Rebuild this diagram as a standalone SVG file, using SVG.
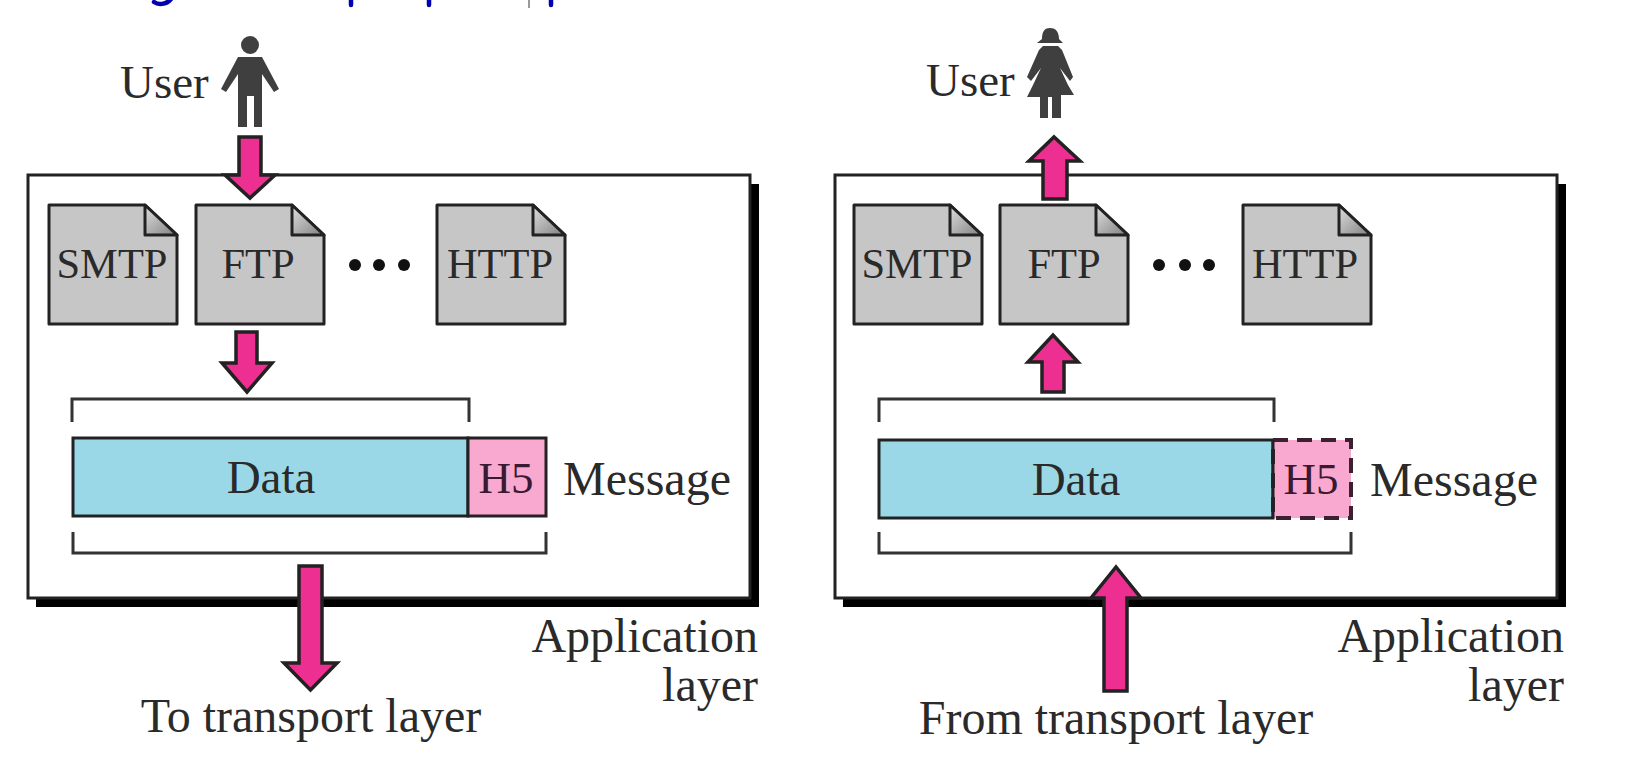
<svg xmlns="http://www.w3.org/2000/svg" width="1640" height="782" viewBox="0 0 1640 782">
<defs>
<style>
text{font-family:"Liberation Serif","Times New Roman",serif;fill:#2a2a2a;font-size:47px}
.m{text-anchor:middle}
.e{text-anchor:end}
.lab{font-size:48px}
.pr{font-size:42.5px}
.h5{font-size:45px;fill:#3a1a30}
.top{fill:none;stroke:#0000b0;stroke-width:4.500;stroke-linecap:round}
.box{fill:#fff;stroke:#222;stroke-width:3}
.shadow{fill:#000}
.doc{fill:#c6c6c6;stroke:#222;stroke-width:3;stroke-linejoin:round}
.fold{fill:url(#fg);stroke:#222;stroke-width:3;stroke-linejoin:round}
.arrow{fill:#ec2f90;stroke:#222;stroke-width:3.500;stroke-linejoin:miter}
.data{fill:#9ad8e8;stroke:#222;stroke-width:3}
.hdr{fill:#f9a8d0;stroke:#222;stroke-width:3}
.hdrd{fill:#f9a8d0;stroke:#3a2030;stroke-width:4;stroke-dasharray:15 9}
.br{fill:none;stroke:#333;stroke-width:3}
.p{fill:#3f3f3f}
.dot{fill:#111}
</style>
<linearGradient id="fg" x1="0" y1="0" x2="1" y2="1"><stop offset="0" stop-color="#e0e0e0"/><stop offset="1" stop-color="#808080"/></linearGradient>
<g id="doc"><path class="doc" d="M0 0H96L128 30V119H0Z"/><path class="fold" d="M96 0V30H128Z"/></g>
</defs>
<rect width="1640" height="782" fill="#fff"/>

<g id="clipped-top">
<path class="top" d="M154 2C158 5 166 5 171 -1"/>
<path class="top" d="M351 -2V5M429 -2V5M551 -2V5"/>
<path d="M529 0V8" stroke="#777" stroke-width="1.500"/>
</g>

<g id="left-layer">
<rect class="shadow" x="36" y="184" width="723" height="423"/>
<rect class="box" x="28" y="175" width="722" height="423"/>
</g>
<g id="right-layer">
<rect class="shadow" x="843" y="184" width="723" height="423"/>
<rect class="box" x="835" y="175" width="722" height="423"/>
</g>

<g id="left-user">
<text x="120" y="98">User</text>
<circle class="p" cx="250" cy="45" r="9"/>
<path class="p" d="M238 57H262L279 89L274 92L262 74V127H254V96H247V127H238V74L226 92L221 89Z"/>
</g>
<g id="right-user">
<text x="926" y="96">User</text>
<path class="p" d="M1042 39C1042 31 1045 28 1050 28C1055 28 1059 31 1059 39L1063 43H1037Z"/>
<path class="p" d="M1043 46H1058L1062 50L1073 77L1070 81L1060 68L1068 85L1074 95H1061V118H1052V97H1048V118H1040V97H1027L1033 85L1041 68L1031 81L1027 77L1039 50Z"/>
</g>

<g id="left-smtp"><use href="#doc" x="49" y="205"/><text class="m pr" x="112" y="278">SMTP</text></g>
<g id="left-ftp"><use href="#doc" x="196" y="205"/><text class="m pr" x="258" y="278">FTP</text></g>
<g id="left-http"><use href="#doc" x="437" y="205"/><text class="m pr" x="500" y="278">HTTP</text></g>
<g id="left-dots"><circle class="dot" cx="355" cy="265" r="6"/><circle class="dot" cx="379" cy="265" r="6"/><circle class="dot" cx="404" cy="265" r="6"/></g>

<g id="right-smtp"><use href="#doc" x="854" y="205"/><text class="m pr" x="917" y="278">SMTP</text></g>
<g id="right-ftp"><use href="#doc" x="1000" y="205"/><text class="m pr" x="1064" y="278">FTP</text></g>
<g id="right-http"><use href="#doc" x="1243" y="205"/><text class="m pr" x="1305" y="278">HTTP</text></g>
<g id="right-dots"><circle class="dot" cx="1159" cy="265" r="6"/><circle class="dot" cx="1185" cy="265" r="6"/><circle class="dot" cx="1209" cy="265" r="6"/></g>

<g id="left-message">
<path class="br" d="M72 422V399H469V422"/>
<rect class="data" x="73" y="438" width="395" height="78"/>
<rect class="hdr" x="468" y="438" width="78" height="78"/>
<text class="m" x="271" y="493">Data</text>
<text class="m h5" x="506" y="493">H5</text>
<text class="lab" x="563" y="495">Message</text>
<path class="br" d="M73 532V553H546V532"/>
</g>
<g id="right-message">
<path class="br" d="M879 422V399H1274V422"/>
<rect class="data" x="879" y="440" width="394" height="78"/>
<rect class="hdrd" x="1273" y="440" width="78" height="78"/>
<path d="M1273 440V518" stroke="#222" stroke-width="3"/>
<text class="m" x="1076" y="495">Data</text>
<text class="m h5" x="1311" y="494">H5</text>
<text class="lab" x="1370" y="496">Message</text>
<path class="br" d="M879 532V553H1351V532"/>
</g>

<g id="connectors">
<path class="arrow" d="M239 137H261V175H275L250 198L225 175H239Z"/>
<path class="arrow" d="M236 332H257V363H272L247 392L222 363H236Z"/>
<path class="arrow" d="M299 566H322V663H337L310.500 690L284 663H299Z"/>
<path class="arrow" d="M1043 199H1067V161H1080L1054 137L1029 161H1043Z"/>
<path class="arrow" d="M1042 392H1064V362H1078L1053 335L1028 362H1042Z"/>
<path class="arrow" d="M1104 691H1127V598H1141L1116 567L1091 598H1104Z"/>
</g>

<g id="labels">
<text class="m lab" x="311" y="732">To transport layer</text>
<text class="e lab" x="758" y="652">Application</text>
<text class="e lab" x="758" y="701">layer</text>
<text class="m lab" x="1116" y="734">From transport layer</text>
<text class="e lab" x="1564" y="652">Application</text>
<text class="e lab" x="1564" y="701">layer</text>
</g>
</svg>
